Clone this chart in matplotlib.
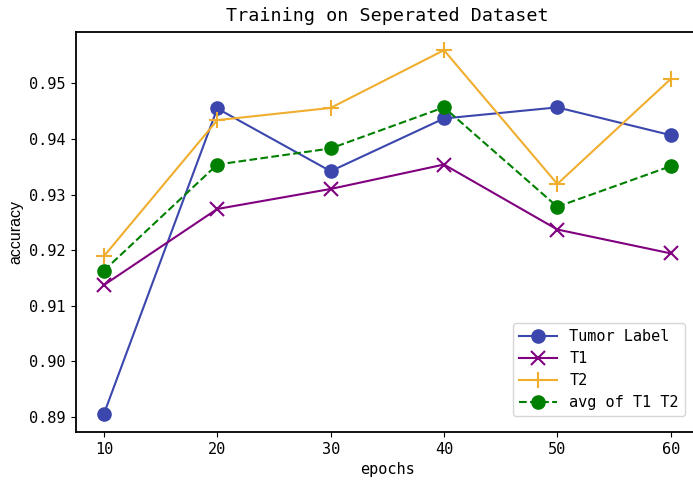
import matplotlib
matplotlib.use("Agg")
import matplotlib.pyplot as plt

plt.rcParams["font.family"] = ["DejaVu Sans Mono", "DejaVu Sans"]

epochs = [10, 20, 30, 40, 50, 60]
tumor_label = [0.8905, 0.9455, 0.9342, 0.9437, 0.9457, 0.9407]
t1 = [0.9137, 0.9274, 0.9310, 0.9354, 0.9237, 0.9194]
t2 = [0.9189, 0.9434, 0.9456, 0.9560, 0.9319, 0.9508]
avg_t1_t2 = [0.9163, 0.9354, 0.9383, 0.9457, 0.9278, 0.9351]

fig = plt.figure(figsize=(6.93, 4.91), dpi=100)
# axes runs slightly past the right edge, as in the reference crop
ax = fig.add_axes([75.6 / 693, 1 - 432 / 491, (699 - 75.6) / 693, 400 / 491])

ax.plot(epochs, tumor_label, color="#3b47ad", marker="o", markersize=9.5,
        lw=1.5, label="Tumor Label")
ax.plot(epochs, t1, color="purple", marker="x", markersize=10,
        markeredgewidth=1.5, lw=1.5, label="T1")
ax.plot(epochs, t2, color="#f0ae2e", marker="+", markersize=11,
        markeredgewidth=1.5, lw=1.5, label="T2")
ax.plot(epochs, avg_t1_t2, color="green", marker="o", markersize=9.5,
        ls="--", lw=1.5, label="avg of T1 T2")

ax.set_yticks([0.89, 0.90, 0.91, 0.92, 0.93, 0.94, 0.95])
ax.set_xticks(epochs)
ax.tick_params(labelsize=11)
for s in ax.spines.values():
    s.set_linewidth(1.3)
ax.spines["right"].set_visible(False)

ax.set_title("Training on Seperated Dataset", fontsize=13.2, pad=8)
ax.set_xlabel("epochs", fontsize=11)
ax.set_ylabel("accuracy", fontsize=11.5, family="Liberation Sans")

ax.legend(loc="lower right", fontsize=11, bbox_to_anchor=(0.9776, 0.04),
          borderaxespad=0, labelspacing=0.45, handlelength=2.5)

fig.savefig("out.png", dpi=100)
